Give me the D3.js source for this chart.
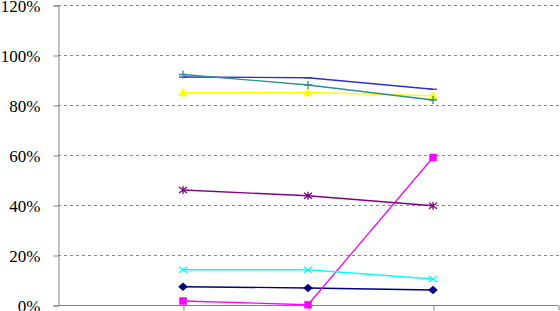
<!DOCTYPE html>
<html>
<head>
<meta charset="utf-8">
<script src="https://cdn.jsdelivr.net/npm/d3@7"></script>
<style>
  body { margin: 0; background: #fff; }
  svg { display: block; }
  svg text.ylabel { font-family: "Liberation Serif", "Times New Roman", serif; font-size: 17px; }
</style>
</head>
<body>
<div id="main_div"></div>
<script>
// categories: first and last slots are empty, points sit on the ticks
var categories = ["", "A", "B", "C", ""];
var yTicks = [0, 20, 40, 60, 80, 100, 120];

var navyVals    = [null, 7.3, 6.8, 6.0, null];
var magentaVals = [null, 1.6, 0.1, 59.0, null];
var yellowVals  = [null, 85.0, 85.0, 83.7, null];
var cyanVals    = [null, 14.1, 14.1, 10.4, null];
var purpleVals  = [null, 46.0, 43.7, 39.7, null];
var blueVals    = [null, 91.2, 90.9, 86.3, null];
var tealVals    = [null, 92.2, 88.0, 82.0, null];

var seriesVals = [navyVals, magentaVals, yellowVals, cyanVals, purpleVals, blueVals, tealVals];
var colors  = ["#000080", "#ff00ff", "#ffff00", "#00ffff", "#800080", "#3030d0", "#2a9090"];
var markers = ["diamond", "square", "triangle", "cross", "star", "dash", "plus"];

var W = 560, H = 311;
var margin = {top: 5, right: 2, bottom: 6, left: 58};
var width = W - margin.left - margin.right,
    height = H - margin.top - margin.bottom;

var x = d3.scalePoint().domain(d3.range(categories.length)).range([0, width]);
var y = d3.scaleLinear().domain([0, 120]).range([height, 0]);

var svg = d3.select("#main_div").append("svg")
    .attr("width", W).attr("height", H)
  .append("g")
    .attr("transform", "translate(" + margin.left + "," + margin.top + ")");

// gridlines
svg.selectAll(".grid").data(yTicks.filter(function(d){ return d > 0; }))
  .enter().append("line")
    .attr("x1", 0).attr("x2", width + 2)
    .attr("y1", function(d){ return Math.round(y(d)) + 0.5; })
    .attr("y2", function(d){ return Math.round(y(d)) + 0.5; })
    .attr("stroke", "#888").attr("stroke-dasharray", "3,3");

// y axis
var yAxis = svg.append("g")
    .attr("transform", "translate(0.5,0.5)")
    .call(d3.axisLeft(y).tickValues(yTicks).tickSize(5).tickPadding(13)
      .tickFormat(function(d){ return d + "%"; }));
yAxis.attr("font-family", null).attr("font-size", null);
yAxis.select(".domain").attr("stroke", "#808080");
yAxis.selectAll(".tick line").attr("stroke", "#808080");
yAxis.selectAll("text")
    .attr("class", "ylabel")
    .attr("fill", "#000")
    .attr("dy", "0.34em");

// x axis
var xAxis = svg.append("g")
    .attr("transform", "translate(0.5," + (Math.round(height) + 0.5) + ")")
    .call(d3.axisBottom(x).tickSize(5).tickFormat(""));
xAxis.select(".domain").attr("stroke", "#808080").attr("d", "M0,0H" + width);
xAxis.selectAll(".tick line").attr("stroke", "#808080");
xAxis.selectAll(".tick").filter(function(d){ return d === 0; }).remove();

var line = d3.line()
    .defined(function(d){ return d != null; })
    .x(function(d, i){ return x(i); })
    .y(function(d){ return y(d); });

function markerPath(type) {
  switch (type) {
    case "diamond": return "M0,-4L4.5,0L0,4L-4.5,0Z";
    case "square": return "M-3.5,-3.5H3.5V3.5H-3.5Z";
    case "triangle": return "M0,-4.5L4.5,3.5H-4.5Z";
    case "cross": return "M-4,-3L4,3M-4,3L4,-3";
    case "star": return "M-4,-3L4,3M-4,3L4,-3M0,-4L0,4";
    case "dash": return "M-4,0L4,0";
    case "plus": return "M-4,0L4,0M0,-4L0,4";
  }
}

seriesVals.forEach(function(vals, s){
  svg.append("path")
      .datum(vals)
      .attr("fill", "none")
      .attr("stroke", colors[s])
      .attr("stroke-width", 1.3)
      .attr("d", line);

  var filled = ["diamond", "square", "triangle"].indexOf(markers[s]) >= 0;
  svg.selectAll(".m" + s)
    .data(vals.map(function(v, i){ return {v: v, i: i}; }).filter(function(d){ return d.v != null; }))
    .enter().append("path")
      .attr("transform", function(d){ return "translate(" + x(d.i) + "," + y(d.v) + ")"; })
      .attr("d", markerPath(markers[s]))
      .attr("fill", filled ? colors[s] : "none")
      .attr("stroke", colors[s])
      .attr("stroke-width", filled ? 0.5 : 1.3);
});
</script>
</body>
</html>
